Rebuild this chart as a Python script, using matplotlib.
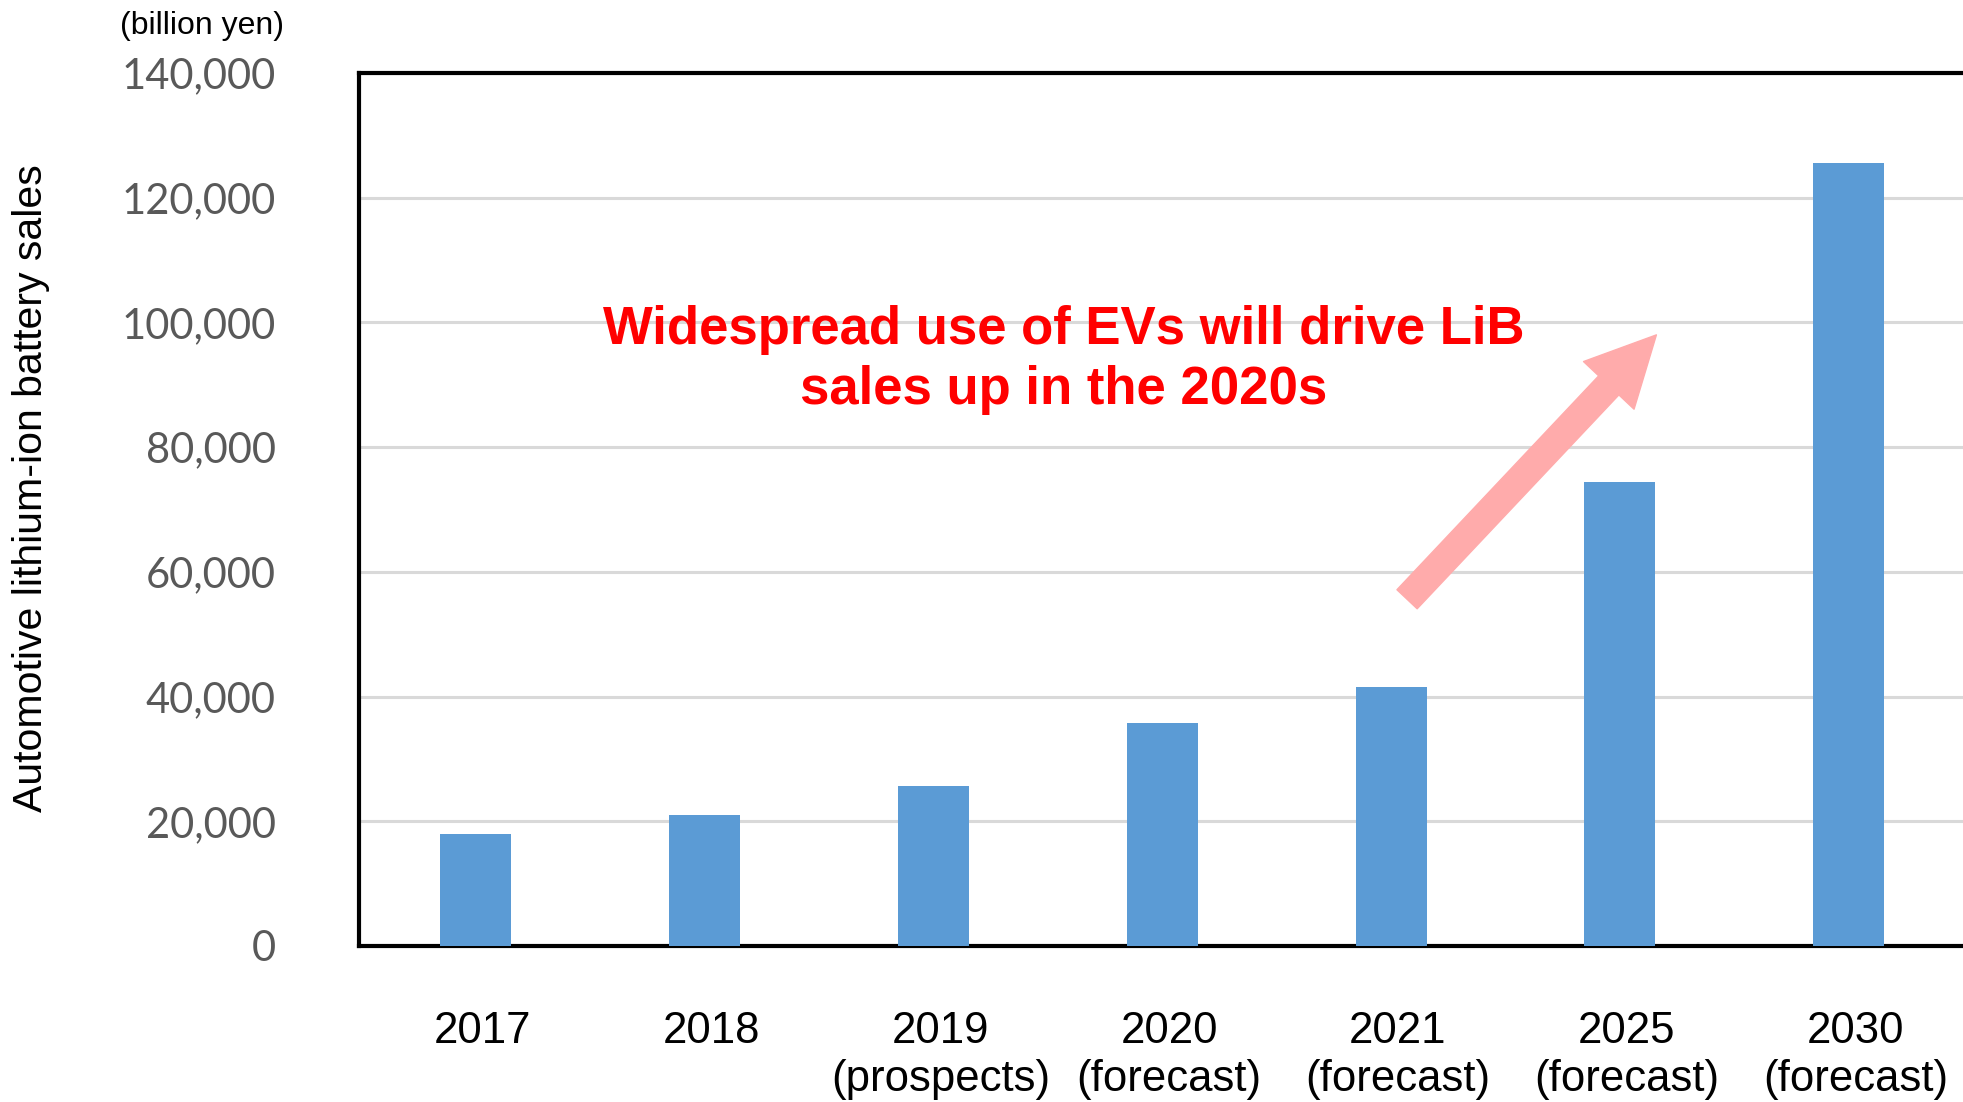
import matplotlib.pyplot as plt
import numpy as np
from matplotlib.patches import FancyArrowPatch
from matplotlib.ticker import FuncFormatter

years = ['2017', '2018', '2019\n(prospects)', '2020\n(forecast)', '2021\n(forecast)',
         '2025\n(forecast)', '2030\n(forecast)']
sales = [18000, 21000, 25600, 35800, 41600, 74400, 125600]
yticks = [0, 20000, 40000, 60000, 80000, 100000, 120000, 140000]

note = 'Widespread use of EVs will drive LiB\nsales up in the 2020s'
note_xy = (2.57, 94000)
arrow_from = (4.07, 55600)
arrow_to = (5.16, 98000)

fig = plt.figure(figsize=(19.63, 11.02), dpi=100)
ax = fig.add_axes([0.183, 0.1416, 0.817, 0.7922])

x = np.arange(len(years))
ax.bar(x, sales, width=0.31, color='#5B9BD5', zorder=3)

ax.set_xlim(-0.51, 6.5)
ax.set_ylim(0, 140000)
ax.set_yticks(yticks)
ax.yaxis.set_major_formatter(FuncFormatter(lambda v, p: f'{int(v):,}'))
# labels sit a few pixels right of the bars in the original
ax.set_xticks(x + 0.03)
ax.set_xticklabels(years, fontsize=31.5, family='Liberation Sans', linespacing=1.2, va='top')
for lab in ax.get_yticklabels():
    lab.set_family('Lato')
    lab.set_fontsize(30)
    lab.set_color('#595959')
ax.tick_params(axis='both', length=0)
ax.tick_params(axis='y', pad=60)
ax.tick_params(axis='x', pad=47)

ax.grid(axis='y', color='#d9d9d9', lw=2.2, zorder=0)
for s in ['left', 'top', 'bottom']:
    ax.spines[s].set_linewidth(3)
    ax.spines[s].set_color('black')
ax.spines['right'].set_visible(False)

ax.set_ylabel('Automotive lithium-ion battery sales', fontsize=29.5,
              family='Liberation Sans')
ax.yaxis.set_label_coords(-0.193, 0.525)

fig.text(0.061, 0.99, '(billion yen)', fontsize=23, family='Liberation Sans',
         ha='left', va='top')

ax.text(note_xy[0], note_xy[1], note, color='#FF0000', fontsize=38, fontweight='bold',
        family='Liberation Sans', ha='center', va='center', linespacing=1.25, zorder=5)

arr = FancyArrowPatch(arrow_from, arrow_to,
                      arrowstyle='simple,head_length=50,head_width=50,tail_width=20',
                      mutation_scale=1, color='#FFABAB', shrinkA=0, shrinkB=0, zorder=4)
ax.add_patch(arr)

fig.savefig('out.png', dpi=100)
